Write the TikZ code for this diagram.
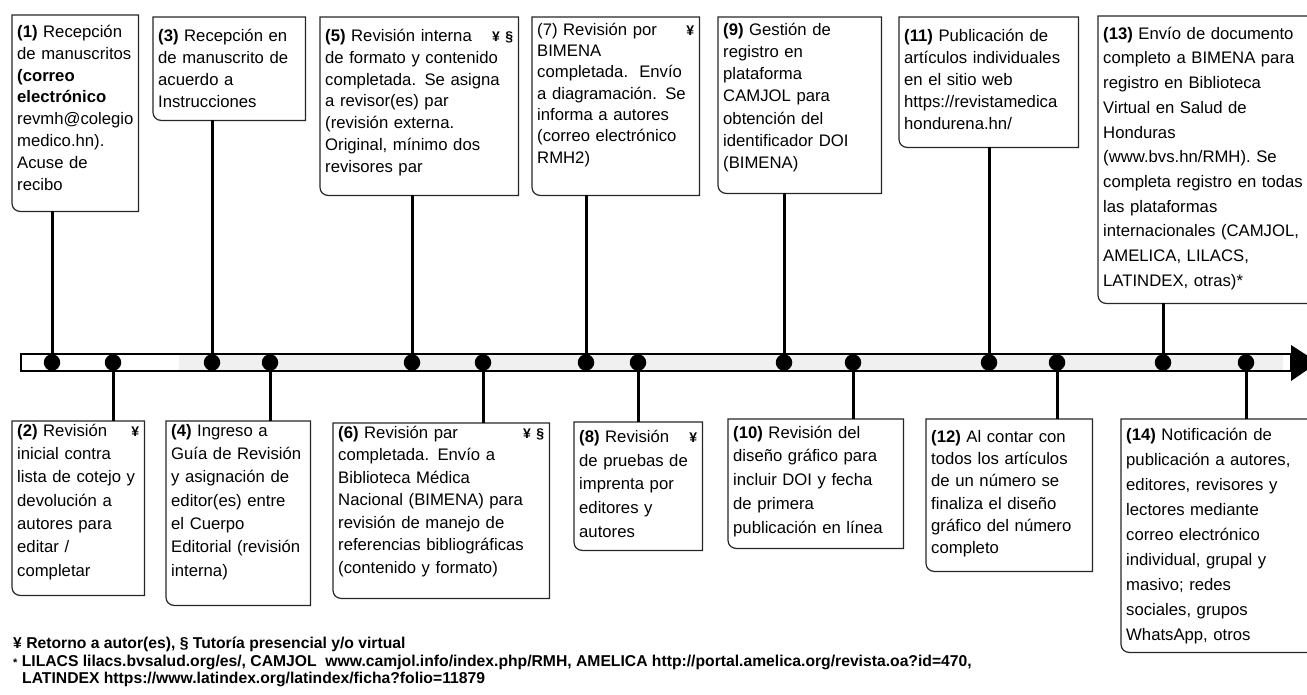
\documentclass[tikz,border=0pt]{standalone}
\usepackage{fontspec}
\setmainfont{Liberation Sans}
\usetikzlibrary{arrows}

\newcommand{\marco}[1]{\draw[borde] (#1.north west) -- (#1.north east) -- (#1.south east) -- ([xshift=8pt]#1.south west) arc[start angle=270, end angle=180, radius=8pt] -- cycle;}
\newcommand{\marca}[1]{\hfill{\fontsize{14}{14}\selectfont\bfseries #1}}

\begin{document}
\begin{tikzpicture}[x=1pt,y=-1pt]

	\tikzstyle{paso}  = [anchor=north west, align=left, inner xsep=5pt, text height=12pt]
	\tikzstyle{borde} = [draw=black!85, line width=1.2pt]
	\tikzstyle{hito}  = [circle, fill=black, inner sep=0pt, minimum size=16.5pt]
	\tikzstyle{tallo} = [line width=3pt]
	\tikzstyle{nota}  = [anchor=base west, inner sep=0pt, font=\bfseries\fontsize{15.7}{17}\selectfont]
	\tikzset{interlinea/.style={font=\fontsize{16.7}{#1}\selectfont}}

	\useasboundingbox (0,0) rectangle (1307,694);

	% linea de tiempo
	\fill[gray!12] (179,354) rectangle (1283,371);
	\draw[line width=1.2pt] (21,354) rectangle (1291,371);
	\fill (1291,345) -- (1318,362.5) -- (1291,381) -- cycle;

	% pasos arriba
	\node[paso, interlinea=21.9, text width=116pt, text depth=164pt, inner ysep=10pt] (p1) at (12,15)
		{\textbf{(1)} Recepción\\ de manuscritos\\ \textbf{(correo}\\ \textbf{electrónico}\\ revmh@colegio\\ medico.hn).\\ Acuse de\\ recibo};
	\node[paso, interlinea=22.2, text width=142pt, text depth=67pt, inner ysep=12pt] (p3) at (153,17)
		{\textbf{(3)} Recepción en\\ de manuscrito de\\ acuerdo a\\ Instrucciones};
	\node[paso, interlinea=21.9, text width=188pt, text depth=142pt, inner ysep=12pt] (p5) at (320,17)
		{\textbf{(5)} Revisión interna \marca{¥ §}\\ de formato y contenido\\ completada. Se asigna\\ a revisor(es) par\\ (revisión externa.\\ Original, mínimo dos\\ revisores par};
	\node[paso, interlinea=21.3, text width=157pt, text depth=154pt, inner ysep=6pt] (p7) at (532,17)
		{(7) Revisión por \marca{¥}\\ BIMENA\\ completada.\ \ Envío\\ a diagramación. Se\\ informa a autores\\ (correo electrónico\\ RMH2)};
	\node[paso, interlinea=22.2, text width=153pt, text depth=152pt, inner ysep=6pt] (p9) at (718,17)
		{\textbf{(9)} Gestión de\\ registro en\\ plataforma\\ CAMJOL para\\ obtención del\\ identificador DOI\\ (BIMENA)};
	\node[paso, interlinea=22, text width=169pt, text depth=94pt, inner ysep=12pt] (p11) at (899,17)
		{\textbf{(11)} Publicación de\\ artículos individuales\\ en el sitio web\\ https://revistamedica\\ hondurena.hn/};
	\node[paso, interlinea=24.7, text width=208pt, text depth=253pt, inner ysep=11pt] (p13) at (1098,16)
		{\textbf{(13)} Envío de documento\\ completo a BIMENA para\\ registro en Biblioteca\\ Virtual en Salud de\\ Honduras\\ (www.bvs.hn/RMH). Se\\ completa registro en todas\\ las plataformas\\ internacionales (CAMJOL,\\ AMELICA, LILACS,\\ LATINDEX, otras)*};

	% pasos abajo
	\node[paso, interlinea=23.3, text width=122pt, text depth=156pt, inner ysep=3pt] (p2) at (12,421)
		{\textbf{(2)} Revisión \marca{¥}\\ inicial contra\\ lista de cotejo y\\ devolución a\\ autores para\\ editar /\\ completar};
	\node[paso, interlinea=23.3, text width=134pt, text depth=166pt, inner ysep=3pt] (p4) at (166,421)
		{\textbf{(4)} Ingreso a\\ Guía de Revisión\\ y asignación de\\ editor(es) entre\\ el Cuerpo\\ Editorial (revisión\\ interna)};
	\node[paso, interlinea=22.5, text width=206pt, text depth=157pt, inner ysep=3pt] (p6) at (333,423)
		{\textbf{(6)} Revisión par \marca{¥ §}\\ completada. Envío a\\ Biblioteca Médica\\ Nacional (BIMENA) para\\ revisión de manejo de\\ referencias bibliográficas\\ (contenido y formato)};
	\node[paso, interlinea=23.8, text width=118pt, text depth=100pt, inner ysep=8pt] (p8) at (574,422)
		{\textbf{(8)} Revisión \marca{¥}\\ de pruebas de\\ imprenta por\\ editores y\\ autores};
	\node[paso, interlinea=23.7, text width=165pt, text depth=103pt, inner ysep=7pt] (p10) at (728,419)
		{\textbf{(10)} Revisión del\\ diseño gráfico para\\ incluir DOI y fecha\\ de primera\\ publicación en línea};
	\node[paso, interlinea=22.3, text width=156pt, text depth=118pt, inner ysep=11pt] (p12) at (926,419)
		{\textbf{(12)} Al contar con\\ todos los artículos\\ de un número se\\ finaliza el diseño\\ gráfico del número\\ completo};
	\node[paso, interlinea=25, text width=186pt, text depth=203pt, inner ysep=9pt] (p14) at (1121,419)
		{\textbf{(14)} Notificación de\\ publicación a autores,\\ editores, revisores y\\ lectores mediante\\ correo electrónico\\ individual, grupal y\\ masivo; redes\\ sociales, grupos\\ WhatsApp, otros};

	\foreach \p in {p1,p2,p3,p4,p5,p6,p7,p8,p9,p10,p11,p12,p13,p14} {\marco{\p}}

	% hitos
	\node[hito] (h1)  at (52,362.5)   {} edge[tallo] (p1.south -| h1);
	\node[hito] (h2)  at (113,362.5)  {} edge[tallo] (p2.north -| h2);
	\node[hito] (h3)  at (212,362.5)  {} edge[tallo] (p3.south -| h3);
	\node[hito] (h4)  at (270,362.5)  {} edge[tallo] (p4.north -| h4);
	\node[hito] (h5)  at (412,362.5)  {} edge[tallo] (p5.south -| h5);
	\node[hito] (h6)  at (483,362.5)  {} edge[tallo] (p6.north -| h6);
	\node[hito] (h7)  at (586,362.5)  {} edge[tallo] (p7.south -| h7);
	\node[hito] (h8)  at (638,362.5)  {} edge[tallo] (p8.north -| h8);
	\node[hito] (h9)  at (784,362.5)  {} edge[tallo] (p9.south -| h9);
	\node[hito] (h10) at (853,362.5)  {} edge[tallo] (p10.north -| h10);
	\node[hito] (h11) at (989,362.5)  {} edge[tallo] (p11.south -| h11);
	\node[hito] (h12) at (1057,362.5) {} edge[tallo] (p12.north -| h12);
	\node[hito] (h13) at (1163,362.5) {} edge[tallo] (p13.south -| h13);
	\node[hito] (h14) at (1246,362.5) {} edge[tallo] (p14.north -| h14);

	% notas
	\node[nota] (n1) at (13,648) {¥ Retorno a autor(es), § Tutoría presencial y/o virtual};
	\node[nota] (n2) at (13,666) {{\fontsize{11}{11}\selectfont *} LILACS lilacs.bvsalud.org/es/, CAMJOL\ \ www.camjol.info/index.php/RMH, AMELICA http://portal.amelica.org/revista.oa?id=470,};
	\node[nota] (n3) at (22,683) {LATINDEX https://www.latindex.org/latindex/ficha?folio=11879};

\end{tikzpicture}
\end{document}
